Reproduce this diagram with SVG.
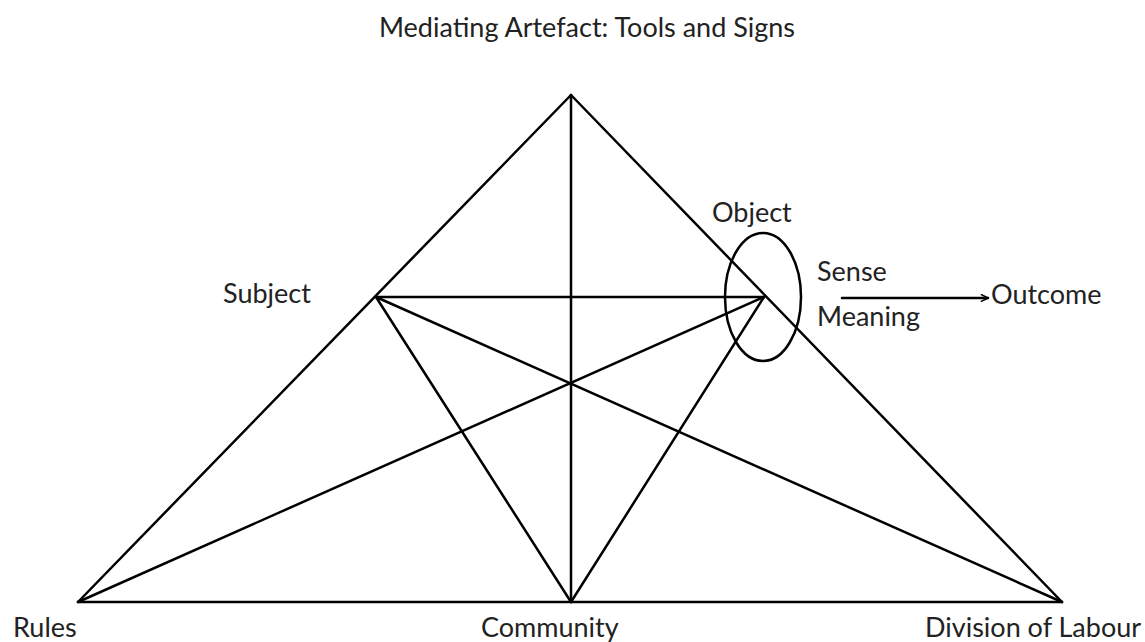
<svg xmlns="http://www.w3.org/2000/svg" width="1145" height="642" viewBox="0 0 1145 642">
  <style>
    .edge { stroke: #000; stroke-width: 2.5; fill: none; stroke-linecap: round; }
    .lbl { font-family: Lato, "Open Sans", "Liberation Sans", sans-serif; font-size: 27px; fill: #222; }
  </style>
  <defs>
    <marker id="arrow" viewBox="0 0 10 10" refX="9" refY="5" markerWidth="9" markerHeight="9" markerUnits="userSpaceOnUse" orient="auto">
      <path d="M1,1 L9,5 L1,9" fill="none" stroke="#000" stroke-width="1.8"/>
    </marker>
  </defs>
  <rect width="1145" height="642" fill="#fff"/>

  <!-- activity system connectors -->
  <g id="connectors">
    <line class="edge" x1="571" y1="95" x2="78" y2="602"/>
    <line class="edge" x1="571" y1="95" x2="1062" y2="602"/>
    <line class="edge" x1="78" y1="602" x2="1062" y2="602"/>
    <line class="edge" x1="571" y1="95" x2="571" y2="602"/>
    <line class="edge" x1="376" y1="297" x2="764" y2="297"/>
    <line class="edge" x1="376" y1="297" x2="571" y2="602"/>
    <line class="edge" x1="376" y1="297" x2="1062" y2="602"/>
    <line class="edge" x1="764" y1="297" x2="78" y2="602"/>
    <line class="edge" x1="764" y1="297" x2="571" y2="602"/>
    <line class="edge" x1="842" y1="298" x2="988" y2="298" marker-end="url(#arrow)"/>
  </g>

  <g id="mediating-artefact">
    <text class="lbl" x="587" y="37" text-anchor="middle">Mediating Artefact: Tools and Signs</text>
  </g>
  <g id="subject">
    <text class="lbl" x="223" y="303">Subject</text>
  </g>
  <g id="object">
    <ellipse cx="763" cy="297" rx="38" ry="64" class="edge"/>
    <text class="lbl" x="712" y="222">Object</text>
    <text class="lbl" x="817" y="281">Sense</text>
    <text class="lbl" x="817" y="326">Meaning</text>
  </g>
  <g id="outcome">
    <text class="lbl" x="991" y="304">Outcome</text>
  </g>
  <g id="rules">
    <text class="lbl" x="13" y="637">Rules</text>
  </g>
  <g id="community">
    <text class="lbl" x="481" y="637">Community</text>
  </g>
  <g id="division-of-labour">
    <text class="lbl" x="925" y="637">Division of Labour</text>
  </g>
</svg>
